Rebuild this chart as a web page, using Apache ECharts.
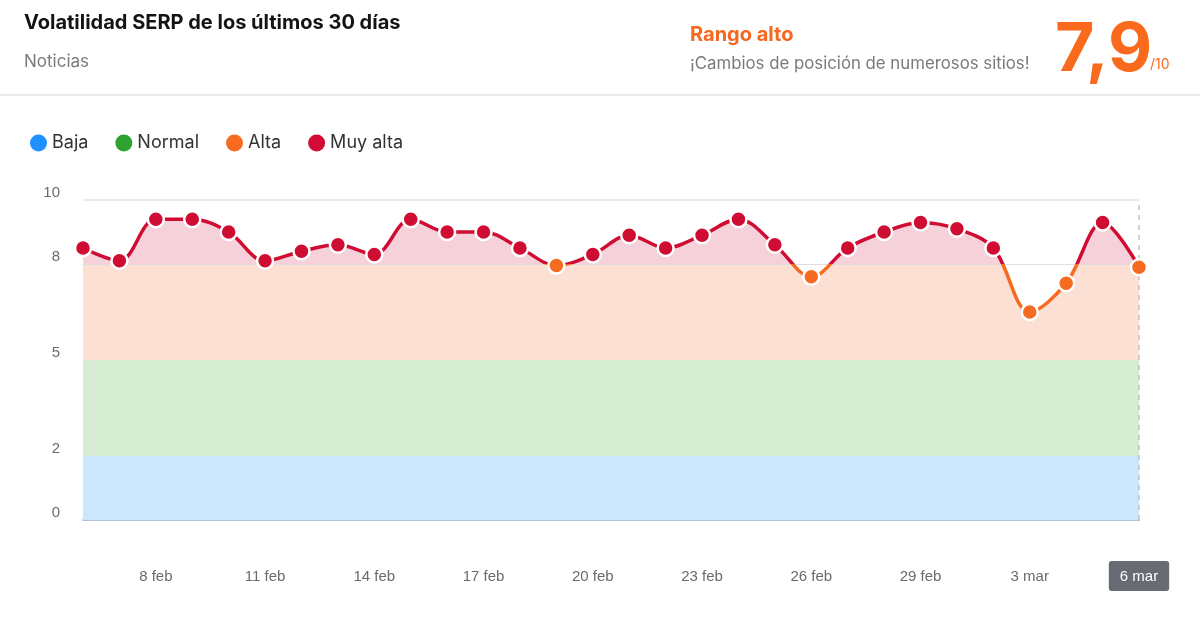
<!DOCTYPE html>
<html>
<head>
<meta charset="utf-8">
<script src="https://cdn.jsdelivr.net/npm/echarts@6/dist/echarts.min.js"></script>
<style>
html,body{margin:0;padding:0;background:#fff;}
#c{width:1200px;height:623px;}
</style>
</head>
<body>
<div id="c"></div>
<script>
const categories = ['6 feb','7 feb','8 feb','9 feb','10 feb','11 feb','12 feb','13 feb','14 feb','15 feb','16 feb','17 feb','18 feb','19 feb','20 feb','21 feb','22 feb','23 feb','24 feb','25 feb','26 feb','27 feb','28 feb','29 feb','1 mar','2 mar','3 mar','4 mar','5 mar','6 mar'];
const volatility = [8.5, 8.1, 9.4, 9.4, 9.0, 8.1, 8.4, 8.6, 8.3, 9.4, 9.0, 9.0, 8.5, 7.95, 8.3, 8.9, 8.5, 8.9, 9.4, 8.6, 7.6, 8.5, 9.0, 9.3, 9.1, 8.5, 6.5, 7.4, 9.3, 7.9];
const yTickLabels = [0, 2, 5, 8, 10];
const legendNames = ['Baja', 'Normal', 'Alta', 'Muy alta'];
const legendColors = ['#1e90ff', '#2ea12f', '#f56b21', '#d20c34'];
const bandBounds = [2, 5, 8];
const score = '7,9';

const chart = echarts.init(document.getElementById('c'), null, {renderer: 'canvas'});

const FONT = 'Inter, "Noto Sans", sans-serif';
const AXFONT = '"Liberation Sans", Arial, sans-serif';
const fillColors = ['#cce6fc', '#d6ecd3', '#fde0d4', '#f6d1da'];
const lineColors = ['#1e90ff', '#2ea12f', '#f56b21', '#cf0d33'];

function pieces(colors) {
  return [
    {gte: 0, lt: bandBounds[0], color: colors[0]},
    {gte: bandBounds[0], lt: bandBounds[1], color: colors[1]},
    {gte: bandBounds[1], lt: bandBounds[2], color: colors[2]},
    {gte: bandBounds[2], lte: 10, color: colors[3]}
  ];
}

const legendSeries = legendNames.map((n, i) => ({
  name: n, type: 'line', data: [], color: legendColors[i],
  itemStyle: {color: legendColors[i]}
}));

const option = {
  animation: false,
  backgroundColor: '#fff',
  graphic: [
    {type: 'text', left: 24, top: 13, style: {text: 'Volatilidad SERP de los últimos 30 días', font: 'bold 20px ' + FONT, fill: '#141414'}},
    {type: 'text', left: 24, top: 53, style: {text: 'Noticias', font: '17px ' + FONT, fill: '#7a7a7a'}},
    {type: 'line', shape: {x1: 0, y1: 95, x2: 1200, y2: 95}, style: {stroke: '#e3e3e3', lineWidth: 1.5}},
    {type: 'text', left: 690, top: 25, style: {text: 'Rango alto', font: 'bold 20px ' + FONT, fill: '#f6671f'}},
    {type: 'text', left: 690, top: 55, style: {text: '¡Cambios de posición de numerosos sitios!', font: '16.8px ' + FONT, fill: '#7a7a7a'}},
    {type: 'text', left: 1055, top: 17, style: {text: score, font: 'bold 68px ' + FONT, fill: '#f96a1c'}},
    {type: 'text', left: 1150, top: 58, style: {text: '/10', font: '14px ' + FONT, fill: '#f96a1c'}}
  ],
  legend: {
    data: legendNames,
    left: 25, top: 129,
    icon: 'circle',
    itemWidth: 17, itemHeight: 17,
    itemGap: 27,
    textStyle: {fontSize: 18, color: '#333', fontFamily: FONT},
    selectedMode: false
  },
  grid: {left: 83, right: 61, top: 200, bottom: 103, containLabel: false, outerBoundsMode: 'none'},
  xAxis: {
    type: 'category',
    data: categories,
    boundaryGap: false,
    axisLine: {show: true, lineStyle: {color: '#b3c3d4', width: 2}},
    axisTick: {show: false},
    splitLine: {show: false},
    axisLabel: {
      interval: (idx) => idx % 3 === 2,
      margin: 41,
      fontSize: 15,
      color: '#6b6b6b',
      fontFamily: AXFONT,
      formatter: (v, idx) => idx === categories.length - 1 ? '{hl|' + v + '}' : '{n|' + v + '}',
      rich: {
        n: {color: '#6b6b6b', padding: [8, 11, 7, 11], fontSize: 15, fontFamily: AXFONT},
        hl: {backgroundColor: '#686b73', color: '#fff', borderRadius: 3, padding: [8, 11, 7, 11], fontSize: 15, fontFamily: AXFONT}
      }
    }
  },
  yAxis: {
    type: 'value', min: 0, max: 10, interval: 1,
    axisLine: {show: false}, axisTick: {show: false}, splitLine: {show: false},
    axisLabel: {
      margin: 23, fontSize: 15, color: '#6b6b6b',
      fontFamily: AXFONT,
      verticalAlign: 'bottom',
      lineHeight: 15,
      formatter: (v) => yTickLabels.includes(v) ? String(v) : ''
    }
  },
  visualMap: [
    {type: 'piecewise', show: false, seriesIndex: 0, dimension: 1, pieces: pieces(fillColors)},
    {type: 'piecewise', show: false, seriesIndex: 1, dimension: 1, pieces: pieces(lineColors)}
  ],
  series: [
    {
      type: 'line', data: volatility, smooth: 0.35, showSymbol: false, silent: true,
      lineStyle: {width: 0, opacity: 0},
      areaStyle: {opacity: 1},
      z: 1,
      markLine: {
        silent: true, symbol: 'none', label: {show: false}, z: 2,
        data: [
          {yAxis: 10, lineStyle: {color: '#e4e4e4', width: 1.5, type: 'solid'}},
          {yAxis: 8, lineStyle: {color: '#e2dcdc', width: 1, type: 'solid'}},
          {xAxis: categories.length - 1, lineStyle: {color: '#c4c4c4', width: 1.5, type: [5, 5]}}
        ]
      }
    },
    {
      type: 'line', data: volatility, smooth: 0.35, clip: false,
      symbol: 'circle', symbolSize: 16,
      lineStyle: {width: 3.5},
      itemStyle: {borderColor: '#fff', borderWidth: 2.5},
      z: 10
    },
    ...legendSeries
  ]
};
chart.setOption(option);
</script>
</body>
</html>
